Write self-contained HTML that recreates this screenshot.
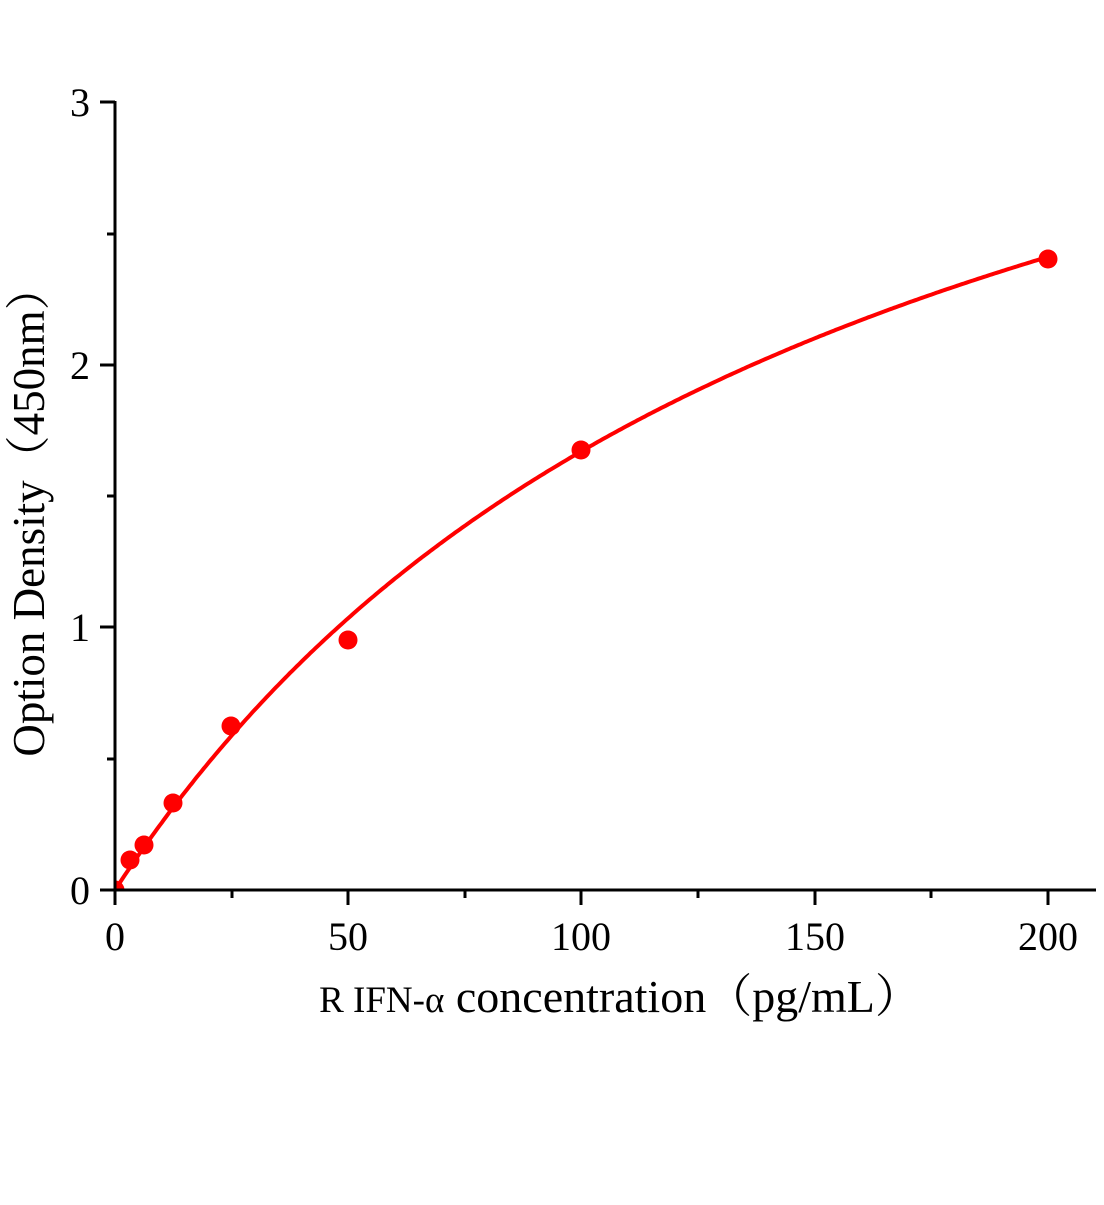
<!DOCTYPE html>
<html><head><meta charset="utf-8"><style>
html,body{margin:0;padding:0;background:#fff;}
svg text{font-family:"Liberation Serif","Noto Serif CJK SC",serif;fill:#000;}
</style></head><body>
<svg width="1104" height="1200" xmlns="http://www.w3.org/2000/svg">
<defs><clipPath id="c"><rect x="116" y="60" width="990" height="829"/></clipPath></defs>
<g clip-path="url(#c)">
<path id="curve" fill="none" stroke="#f00" stroke-width="4" d=""/>
<circle cx="115" cy="890" r="9.5" fill="#f00"/>
</g>
<g fill="#f00">
<circle cx="130" cy="860" r="9.5"/>
<circle cx="144" cy="845" r="9.5"/>
<circle cx="173" cy="803" r="9.5"/>
<circle cx="231" cy="726" r="9.5"/>
<circle cx="348" cy="640" r="9.5"/>
<circle cx="581" cy="450" r="9.5"/>
<circle cx="1048" cy="259" r="9.5"/>
</g>
<g stroke="#000" stroke-width="3" fill="none">
<line x1="115" y1="101" x2="115" y2="891"/>
<line x1="114" y1="890" x2="1096" y2="890"/>
<line x1="100" y1="890" x2="115" y2="890"/>
<line x1="100" y1="627" x2="115" y2="627"/>
<line x1="100" y1="365" x2="115" y2="365"/>
<line x1="100" y1="102" x2="115" y2="102"/>
<line x1="107" y1="759" x2="115" y2="759"/>
<line x1="107" y1="496" x2="115" y2="496"/>
<line x1="107" y1="234" x2="115" y2="234"/>
<line x1="115" y1="890" x2="115" y2="905"/>
<line x1="348" y1="890" x2="348" y2="905"/>
<line x1="581" y1="890" x2="581" y2="905"/>
<line x1="815" y1="890" x2="815" y2="905"/>
<line x1="1048" y1="890" x2="1048" y2="905"/>
<line x1="232" y1="890" x2="232" y2="898"/>
<line x1="465" y1="890" x2="465" y2="898"/>
<line x1="698" y1="890" x2="698" y2="898"/>
<line x1="931" y1="890" x2="931" y2="898"/>
</g>
<g font-size="40" text-anchor="end">
<text x="90" y="904">0</text>
<text x="90" y="641">1</text>
<text x="90" y="379">2</text>
<text x="90" y="116">3</text>
</g>
<g font-size="40" text-anchor="middle">
<text x="115" y="950">0</text>
<text x="348" y="950">50</text>
<text x="581" y="950">100</text>
<text x="815" y="950">150</text>
<text x="1048" y="950">200</text>
</g>
<text x="620" y="1012" font-size="46" text-anchor="middle"><tspan font-size="37">R IFN-α</tspan> concentration（pg/mL）</text>
<text transform="translate(44,511) rotate(-90)" font-size="45" text-anchor="middle">Option Density（450nm）</text>
</svg>
<script>
var d="";for(var i=0;i<=400;i++){var x=i*0.5;var y=4.326*x/(159+x);var px=115+x*4.665,py=890-y*262.7;d+=(i?"L":"M")+px.toFixed(1)+" "+py.toFixed(1);}
document.getElementById("curve").setAttribute("d",d);
</script>
</body></html>
